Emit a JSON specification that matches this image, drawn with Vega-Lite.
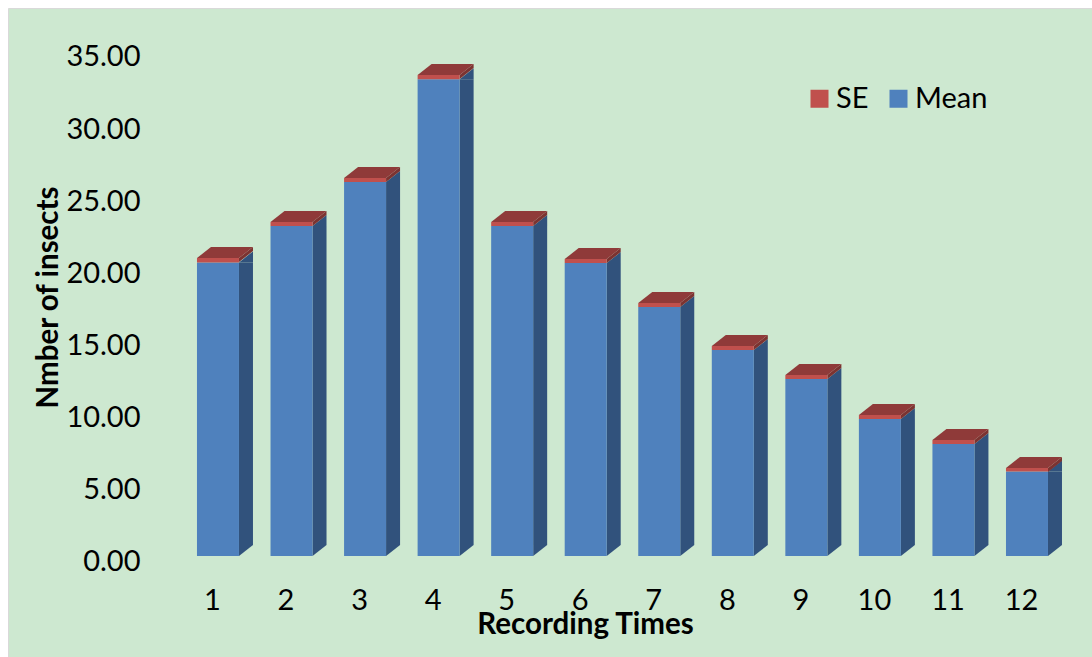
{"$schema":"https://vega.github.io/schema/vega-lite/v6.json","width":1084,"height":649,"autosize":{"type":"none"},"padding":{"left":8,"top":8,"right":0,"bottom":0},"background":"#ffffff","view":{"fill":"#CDE8D0","stroke":"#D9D9D9"},"config":{"font":"Lato"},"data":{"values":[{"time":1,"mean":20.35,"top":20.65},{"time":2,"mean":22.87,"top":23.15},{"time":3,"mean":25.92,"top":26.2},{"time":4,"mean":33.05,"top":33.33},{"time":5,"mean":22.87,"top":23.15},{"time":6,"mean":20.3,"top":20.58},{"time":7,"mean":17.25,"top":17.53},{"time":8,"mean":14.27,"top":14.55},{"time":9,"mean":12.26,"top":12.54},{"time":10,"mean":9.49,"top":9.77},{"time":11,"mean":7.76,"top":8.04},{"time":12,"mean":5.85,"top":6.1}]},"encoding":{"x":{"field":"time","type":"quantitative","scale":{"domain":[-1.855,12.884],"nice":false,"zero":false,"padding":0},"axis":{"values":[1,2,3,4,5,6,7,8,9,10,11,12],"format":"d","grid":false,"domain":false,"ticks":false,"offset":-72,"labelPadding":1,"labelBaseline":"top","labelOffset":-6,"labelFontSize":29,"labelColor":"#000000","labelFont":"Lato","labelOverlap":false,"title":"Recording Times","titleFontSize":29.5,"titleFont":"Lato","titleFontWeight":"bold","titleColor":"#000000","titleX":577,"titleY":39,"titleBaseline":"middle","titleAlign":"center","zindex":2}}},"layer":[{"mark":{"type":"bar","orient":"vertical","width":14,"xOffset":28,"y2Offset":-11,"color":"#31527C"},"encoding":{"y":{"field":"mean","type":"quantitative","scale":{"domain":[-7,37.98],"nice":false,"zero":false,"padding":0},"axis":{"values":[0,5,10,15,20,25,30,35],"format":".2f","grid":false,"domain":false,"ticks":false,"offset":-132,"labelPadding":0,"labelOffset":6,"labelFontSize":29,"labelColor":"#000000","labelFont":"Lato","title":"Nmber of insects","titleFontSize":29.5,"titleFont":"Lato","titleFontWeight":"bold","titleColor":"#000000","titleX":-92,"titleY":289,"titleBaseline":"middle","titleAlign":"center","zindex":2}},"y2":{"datum":0}}},{"mark":{"type":"point","filled":true,"opacity":1,"size":4,"color":"#31527C","shape":"M21,0L35,-11L35,0Z"},"encoding":{"y":{"field":"mean","type":"quantitative","scale":{"domain":[-7,37.98],"nice":false,"zero":false,"padding":0}}}},{"mark":{"type":"point","filled":true,"opacity":1,"size":4,"color":"#31527C","shape":"M21,0L35,-11L21,-11Z"},"encoding":{"y":{"datum":0,"type":"quantitative"}}},{"mark":{"type":"point","filled":true,"opacity":1,"size":4,"color":"#7C3331","shape":"M21,0L35,-11L35,-7L21,4Z"},"encoding":{"y":{"field":"top","type":"quantitative","scale":{"domain":[-7,37.98],"nice":false,"zero":false,"padding":0}}}},{"mark":{"type":"point","filled":true,"opacity":1,"size":4,"color":"#8F3A39","shape":"M-21,0L21,0L35,-11L-7,-11Z"},"encoding":{"y":{"field":"top","type":"quantitative","scale":{"domain":[-7,37.98],"nice":false,"zero":false,"padding":0}}}},{"mark":{"type":"bar","orient":"vertical","width":42},"encoding":{"y":{"field":"mean","type":"quantitative","scale":{"domain":[-7,37.98],"nice":false,"zero":false,"padding":0}},"y2":{"datum":0},"color":{"datum":"Mean","type":"nominal","scale":{"domain":["SE","Mean"],"range":["#C0504D","#4F81BD"]},"legend":{"orient":"none","legendX":797,"legendY":76,"direction":"horizontal","title":null,"symbolType":"square","symbolSize":324,"symbolStrokeWidth":0,"labelFontSize":29,"labelFont":"Lato","labelColor":"#000000","labelOffset":2,"columnPadding":15}}}},{"mark":{"type":"bar","orient":"vertical","width":42},"encoding":{"y":{"field":"top","type":"quantitative","scale":{"domain":[-7,37.98],"nice":false,"zero":false,"padding":0}},"y2":{"field":"mean"},"color":{"datum":"SE","type":"nominal"}}}]}
